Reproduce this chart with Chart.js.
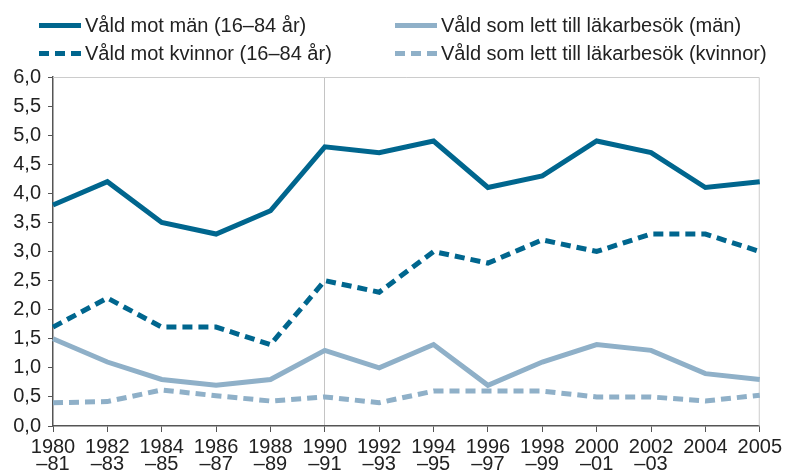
<!DOCTYPE html>
<html>
<head>
  <meta charset="UTF-8">
  <title>Våld mot män och kvinnor</title>
  <script src="https://cdn.jsdelivr.net/npm/chart.js"></script>
  <style>
    html, body {
      margin: 0;
      padding: 0;
      background: #fff;
      font-family: 'Liberation Sans', Arial, sans-serif;
    }
    #wrap {
      position: relative;
      width: 789px;
      height: 474px;
    }
    #legend {
      position: absolute;
      left: 0;
      top: 0;
      width: 789px;
      height: 70px;
    }
    .item {
      position: absolute;
      display: flex;
      align-items: center;
      font-size: 20px;
      color: #222;
      white-space: nowrap;
      height: 24px;
    }
    .swatch {
      width: 42px;
      height: 5px;
      margin-right: 4px;
    }
  </style>
</head>
<body>
  <div id="wrap">
    <canvas id="chart" width="789" height="474"></canvas>
    <div id="legend"></div>
  </div>

  <script>
    const labels = [
      ['1980', '–81'], ['1982', '–83'], ['1984', '–85'], ['1986', '–87'],
      ['1988', '–89'], ['1990', '–91'], ['1992', '–93'], ['1994', '–95'],
      ['1996', '–97'], ['1998', '–99'], ['2000', '–01'], ['2002', '–03'],
      '2004', '2005'
    ];

    const valdMan      = [3.8, 4.2, 3.5, 3.3, 3.7, 4.8, 4.7, 4.9, 4.1, 4.3, 4.9, 4.7, 4.1, 4.2];
    const valdKvinnor  = [1.7, 2.2, 1.7, 1.7, 1.4, 2.5, 2.3, 3.0, 2.8, 3.2, 3.0, 3.3, 3.3, 3.0];
    const lakareMan    = [1.5, 1.1, 0.8, 0.7, 0.8, 1.3, 1.0, 1.4, 0.7, 1.1, 1.4, 1.3, 0.9, 0.8];
    const lakareKvinna = [0.4, 0.42, 0.62, 0.52, 0.43, 0.5, 0.4, 0.6, 0.6, 0.6, 0.5, 0.5, 0.43, 0.53];

    const dark = '#00668e';
    const light = '#8fb0c8';

    const series = [
      { label: 'Våld mot män (16–84 år)', data: valdMan, color: dark, dash: [], col: 0, row: 0 },
      { label: 'Våld mot kvinnor (16–84 år)', data: valdKvinnor, color: dark, dash: [10, 6], col: 0, row: 1 },
      { label: 'Våld som lett till läkarbesök (män)', data: lakareMan, color: light, dash: [], col: 1, row: 0 },
      { label: 'Våld som lett till läkarbesök (kvinnor)', data: lakareKvinna, color: light, dash: [10, 6], col: 1, row: 1 }
    ];

    // legend in two columns, like the original
    const legend = document.getElementById('legend');
    const colX = [39, 395];
    const rowY = [13, 41];
    series.forEach(s => {
      const item = document.createElement('div');
      item.className = 'item';
      item.style.left = colX[s.col] + 'px';
      item.style.top = rowY[s.row] + 'px';
      const sw = document.createElement('span');
      sw.className = 'swatch';
      sw.style.background = s.dash.length
        ? `repeating-linear-gradient(to right, ${s.color} 0 10px, transparent 10px 16px)`
        : s.color;
      item.appendChild(sw);
      item.appendChild(document.createTextNode(s.label));
      legend.appendChild(item);
    });

    // light frame on top and right edge of the plot
    const framePlugin = {
      id: 'frame',
      beforeDatasetsDraw(chart) {
        const { ctx, chartArea: a } = chart;
        ctx.save();
        ctx.strokeStyle = '#cccccc';
        ctx.lineWidth = 1;
        ctx.beginPath();
        ctx.moveTo(a.left, a.top + 0.5);
        ctx.lineTo(a.right - 0.5, a.top + 0.5);
        ctx.lineTo(a.right - 0.5, a.bottom);
        ctx.stroke();
        ctx.restore();
      }
    };

    const font = { family: "'Liberation Sans', Arial, sans-serif", size: 20, lineHeight: 0.85 };

    new Chart(document.getElementById('chart').getContext('2d'), {
      type: 'line',
      data: {
        labels: labels,
        datasets: series.slice().reverse().map(s => ({
          label: s.label,
          data: s.data,
          borderColor: s.color,
          backgroundColor: s.color,
          borderWidth: 5,
          borderDash: s.dash,
          borderCapStyle: 'butt',
          borderJoinStyle: 'miter',
          pointRadius: 0,
          fill: false,
          tension: 0
        }))
      },
      options: {
        responsive: false,
        animation: false,
        layout: { padding: { left: 0, right: 29, top: 77, bottom: 0 } },
        plugins: {
          legend: { display: false },
          tooltip: { enabled: false }
        },
        scales: {
          x: {
            offset: false,
            border: { color: '#555', width: 1.5 },
            grid: {
              color: c => c.index === 5 ? '#c4c4c4' : 'rgba(0,0,0,0)',
              tickColor: '#555',
              tickLength: 6,
              lineWidth: 1
            },
            ticks: {
              color: '#222',
              font: font,
              maxRotation: 0,
              autoSkip: false,
              padding: 7
            },
            afterFit: s => { s.height = 48; }
          },
          y: {
            min: 0,
            max: 6,
            border: { color: '#555', width: 1.5 },
            grid: {
              drawOnChartArea: false,
              tickColor: '#555',
              tickLength: 5
            },
            ticks: {
              stepSize: 0.5,
              color: '#222',
              font: { family: font.family, size: 20 },
              padding: 7,
              callback: v => v.toFixed(1).replace('.', ',')
            },
            afterFit: s => { s.width = 53; }
          }
        }
      },
      plugins: [framePlugin]
    });
  </script>
</body>
</html>
